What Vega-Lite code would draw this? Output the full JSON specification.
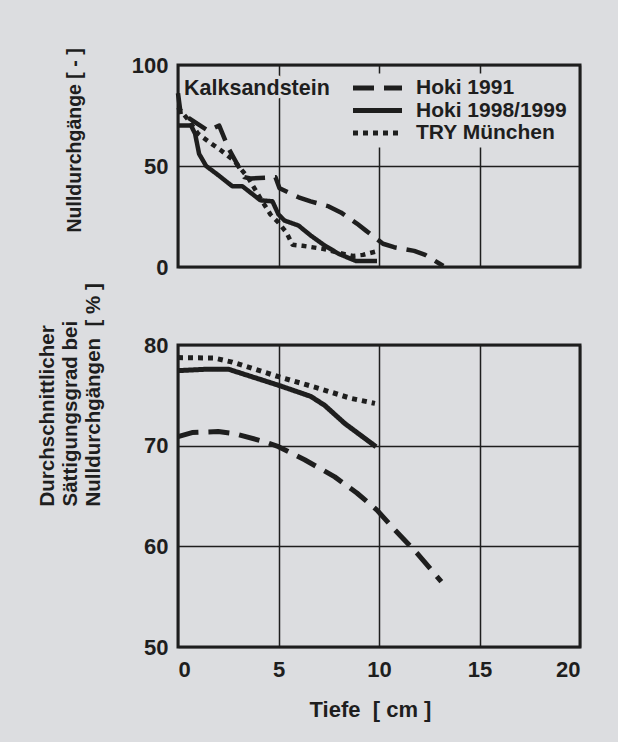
{
  "$schema": "https://vega.github.io/schema/vega-lite/v6.json",
  "background": "#dcdde0",
  "padding": {"left": 35, "top": 46, "right": 40, "bottom": 30},
  "datasets": {
    "top": [
      {"series": "Hoki 1991", "x": 0, "y": 86},
      {"series": "Hoki 1991", "x": 0.15, "y": 74.5},
      {"series": "Hoki 1991", "x": 0.5, "y": 74},
      {"series": "Hoki 1991", "x": 1.5, "y": 67.5},
      {"series": "Hoki 1991", "x": 2.05, "y": 70},
      {"series": "Hoki 1991", "x": 2.5, "y": 59},
      {"series": "Hoki 1991", "x": 3.3, "y": 44.5},
      {"series": "Hoki 1991", "x": 3.6, "y": 43.8},
      {"series": "Hoki 1991", "x": 4.85, "y": 44.4},
      {"series": "Hoki 1991", "x": 5.05, "y": 39},
      {"series": "Hoki 1991", "x": 6.0, "y": 34.5},
      {"series": "Hoki 1991", "x": 6.6, "y": 32.5},
      {"series": "Hoki 1991", "x": 7.5, "y": 30},
      {"series": "Hoki 1991", "x": 8.1, "y": 27},
      {"series": "Hoki 1991", "x": 8.9, "y": 21.5},
      {"series": "Hoki 1991", "x": 9.35, "y": 18},
      {"series": "Hoki 1991", "x": 10.2, "y": 11.5},
      {"series": "Hoki 1991", "x": 10.75, "y": 9.8},
      {"series": "Hoki 1991", "x": 11.75, "y": 8},
      {"series": "Hoki 1991", "x": 12.3, "y": 6},
      {"series": "Hoki 1991", "x": 13.2, "y": 0.5},
      {"series": "Hoki 1998/1999", "x": 0, "y": 70},
      {"series": "Hoki 1998/1999", "x": 0.65, "y": 70},
      {"series": "Hoki 1998/1999", "x": 0.85, "y": 66},
      {"series": "Hoki 1998/1999", "x": 1.05, "y": 56},
      {"series": "Hoki 1998/1999", "x": 1.4, "y": 50},
      {"series": "Hoki 1998/1999", "x": 2.0, "y": 45.5},
      {"series": "Hoki 1998/1999", "x": 2.7, "y": 40},
      {"series": "Hoki 1998/1999", "x": 3.2, "y": 40},
      {"series": "Hoki 1998/1999", "x": 4.1, "y": 33},
      {"series": "Hoki 1998/1999", "x": 4.7, "y": 32.5},
      {"series": "Hoki 1998/1999", "x": 5.0, "y": 26},
      {"series": "Hoki 1998/1999", "x": 5.3, "y": 23},
      {"series": "Hoki 1998/1999", "x": 6.0, "y": 20.5},
      {"series": "Hoki 1998/1999", "x": 6.6, "y": 15.6},
      {"series": "Hoki 1998/1999", "x": 7.3, "y": 10.6},
      {"series": "Hoki 1998/1999", "x": 8.0, "y": 6.5},
      {"series": "Hoki 1998/1999", "x": 8.85, "y": 3},
      {"series": "Hoki 1998/1999", "x": 9.9, "y": 3},
      {"series": "TRY München", "x": 0, "y": 79},
      {"series": "TRY München", "x": 0.5, "y": 73},
      {"series": "TRY München", "x": 1.0, "y": 66},
      {"series": "TRY München", "x": 1.6, "y": 61.5},
      {"series": "TRY München", "x": 2.1, "y": 58},
      {"series": "TRY München", "x": 2.8, "y": 52.5},
      {"series": "TRY München", "x": 3.5, "y": 44},
      {"series": "TRY München", "x": 4.1, "y": 34},
      {"series": "TRY München", "x": 4.6, "y": 26},
      {"series": "TRY München", "x": 5.0, "y": 22},
      {"series": "TRY München", "x": 5.4, "y": 17},
      {"series": "TRY München", "x": 5.7, "y": 11},
      {"series": "TRY München", "x": 6.2, "y": 10.5},
      {"series": "TRY München", "x": 7.2, "y": 9},
      {"series": "TRY München", "x": 8.0, "y": 7},
      {"series": "TRY München", "x": 8.7, "y": 5.5},
      {"series": "TRY München", "x": 9.2, "y": 6},
      {"series": "TRY München", "x": 9.9, "y": 7.8}
    ],
    "bottom": [
      {"series": "Hoki 1991", "x": 0, "y": 70.9},
      {"series": "Hoki 1991", "x": 0.7, "y": 71.3},
      {"series": "Hoki 1991", "x": 2.0, "y": 71.4},
      {"series": "Hoki 1991", "x": 2.8, "y": 71.2},
      {"series": "Hoki 1991", "x": 4.3, "y": 70.4},
      {"series": "Hoki 1991", "x": 5.0, "y": 69.9},
      {"series": "Hoki 1991", "x": 6.3, "y": 68.6},
      {"series": "Hoki 1991", "x": 7.8, "y": 66.9},
      {"series": "Hoki 1991", "x": 8.9, "y": 65.3},
      {"series": "Hoki 1991", "x": 9.9, "y": 63.6},
      {"series": "Hoki 1991", "x": 10.8, "y": 61.6},
      {"series": "Hoki 1991", "x": 11.9, "y": 59.3},
      {"series": "Hoki 1991", "x": 13.1, "y": 56.5},
      {"series": "Hoki 1998/1999", "x": 0, "y": 77.45},
      {"series": "Hoki 1998/1999", "x": 1.5, "y": 77.6},
      {"series": "Hoki 1998/1999", "x": 2.5, "y": 77.6},
      {"series": "Hoki 1998/1999", "x": 5.0, "y": 76.0},
      {"series": "Hoki 1998/1999", "x": 6.6, "y": 74.9},
      {"series": "Hoki 1998/1999", "x": 7.3, "y": 74.0},
      {"series": "Hoki 1998/1999", "x": 8.3, "y": 72.2},
      {"series": "Hoki 1998/1999", "x": 9.85, "y": 69.9},
      {"series": "TRY München", "x": 0, "y": 78.75},
      {"series": "TRY München", "x": 1.8, "y": 78.7},
      {"series": "TRY München", "x": 2.7, "y": 78.3},
      {"series": "TRY München", "x": 5.0, "y": 76.85},
      {"series": "TRY München", "x": 7.0, "y": 75.7},
      {"series": "TRY München", "x": 8.6, "y": 74.7},
      {"series": "TRY München", "x": 9.8, "y": 74.2}
    ]
  },
  "vconcat": [
    {
      "width": 402,
      "height": 202,
      "layer": [
        {
          "data": {"values": [{}]},
          "mark": {"type": "text", "align": "left", "baseline": "middle", "font": "Liberation Sans", "fontWeight": "bold", "fontSize": 21.5, "fill": "#dcdde0", "stroke": "#dcdde0", "strokeWidth": 7, "strokeJoin": "round"},
          "encoding": {
            "x": {"datum": 0.3, "type": "quantitative"},
            "y": {"datum": 88, "type": "quantitative"},
            "text": {"value": "Kalksandstein"}
          }
        },
        {
          "data": {"name": "top"},
          "mark": {"type": "line", "strokeWidth": 4.5, "color": "#1e1e1e", "strokeCap": "butt", "strokeJoin": "round"},
          "encoding": {
            "x": {"field": "x", "type": "quantitative", "scale": {"domain": [0, 20], "nice": false},
              "axis": {"values": [0, 5, 10, 15, 20], "labels": false, "title": null}},
            "y": {"field": "y", "type": "quantitative", "scale": {"domain": [0, 100], "nice": false},
              "axis": {"values": [0, 50, 100], "title": "Nulldurchgänge [ - ]", "titleAngle": -90, "titleAlign": "left", "titleBaseline": "middle", "titleX": -104, "titleY": 167, "titleFontSize": 19.5}},
            "strokeDash": {"field": "series", "type": "nominal",
              "scale": {"domain": ["Hoki 1991", "Hoki 1998/1999", "TRY München"], "range": [[21, 10], [1, 0], [5, 5]]},
              "legend": {"orient": "none", "legendX": 168.5, "legendY": 8.5, "title": null, "symbolType": "stroke", "symbolSize": 2401, "symbolStrokeWidth": 5, "symbolStrokeColor": "#1e1e1e", "labelFont": "Liberation Sans", "labelFontWeight": "bold", "labelFontSize": 21, "labelColor": "#1e1e1e", "labelOffset": 11.5, "labelLimit": 300, "clipHeight": 21, "rowPadding": 0.5, "padding": 4, "fillColor": "#dcdde0"}}
          }
        },
        {
          "data": {"values": [{}]},
          "mark": {"type": "text", "align": "left", "baseline": "middle", "font": "Liberation Sans", "fontWeight": "bold", "fontSize": 21.5, "color": "#1e1e1e"},
          "encoding": {
            "x": {"datum": 0.3, "type": "quantitative"},
            "y": {"datum": 88, "type": "quantitative"},
            "text": {"value": "Kalksandstein"}
          }
        }
      ]
    },
    {
      "width": 402,
      "height": 302,
      "data": {"name": "bottom"},
      "mark": {"type": "line", "strokeWidth": 5, "color": "#1e1e1e", "strokeCap": "butt", "strokeJoin": "round"},
      "encoding": {
        "x": {"field": "x", "type": "quantitative", "scale": {"domain": [0, 20], "nice": false},
          "axis": {"values": [0, 5, 10, 15, 20], "title": "Tiefe\u00a0\u00a0[ cm ]", "titleFontSize": 22, "titlePadding": 19, "titleX": 192, "titleAlign": "center"}},
        "y": {"field": "y", "type": "quantitative", "scale": {"domain": [50, 80], "nice": false},
          "axis": {"values": [50, 60, 70, 80], "title": ["Durchschnittlicher", "Sättigungsgrad bei", "Nulldurchgängen\u00a0\u00a0[ % ]"], "titleAngle": -90, "titleAlign": "left", "titleBaseline": "middle", "titleX": -131, "titleY": 161, "titleLineHeight": 23, "titleFontSize": 20.5}},
        "strokeDash": {"field": "series", "type": "nominal",
          "scale": {"domain": ["Hoki 1991", "Hoki 1998/1999", "TRY München"], "range": [[21, 10], [1, 0], [5, 5]]},
          "legend": null}
      }
    }
  ],
  "resolve": {"scale": {"strokeDash": "independent"}, "legend": {"strokeDash": "independent"}},
  "config": {
    "concat": {"spacing": 1},
    "view": {"stroke": "#1e1e1e", "strokeWidth": 3, "fill": null},
    "axis": {
      "grid": true, "gridColor": "#1e1e1e", "gridWidth": 1.5, "gridOpacity": 1,
      "domain": false, "ticks": false, "tickSize": 0,
      "labelFont": "Liberation Sans", "labelFontWeight": "bold", "labelFontSize": 22, "labelColor": "#1e1e1e",
      "labelPadding": 10,
      "titleFont": "Liberation Sans", "titleFontWeight": "bold", "titleColor": "#1e1e1e"
    },
    "axisX": {"labelPadding": 12},
    "text": {"font": "Liberation Sans"}
  }
}
